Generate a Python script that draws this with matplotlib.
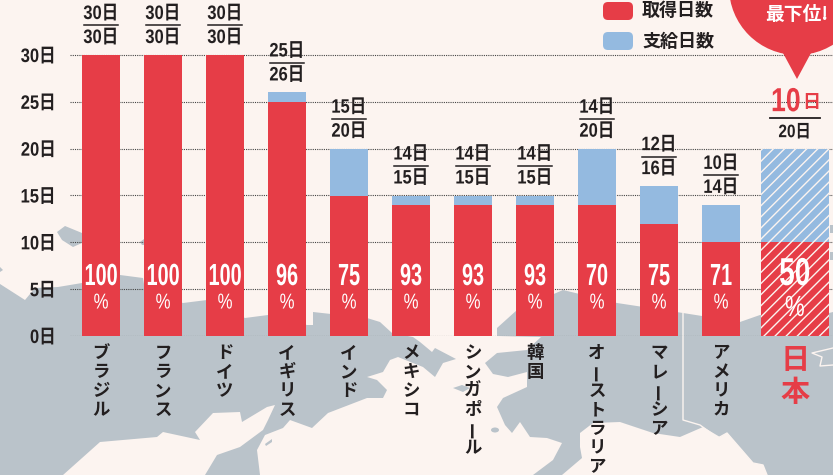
import matplotlib
matplotlib.use('Agg')
import matplotlib.pyplot as plt
from matplotlib.patches import Polygon, Circle, Ellipse, FancyBboxPatch
from matplotlib.patheffects import AbstractPathEffect
from matplotlib.transforms import Affine2D
import numpy as np

# values
countries = ['ブラジル', 'フランス', 'ドイツ', 'イギリス', 'インド', 'メキシコ', 'シンガポール',
             '韓国', 'オーストラリア', 'マレーシア', 'アメリカ', '日本']
taken = [30, 30, 30, 25, 15, 14, 14, 14, 14, 12, 10, 10]
given = [30, 30, 30, 26, 20, 15, 15, 15, 20, 16, 14, 20]
rates = [100, 100, 100, 96, 75, 93, 93, 93, 70, 75, 71, 50]
yticks = [0, 5, 10, 15, 20, 25, 30]

RED = '#E63D47'
BLUE = '#94BAE0'
BG = '#FCF4F0'
GRAY = '#BAC3CA'
INK = '#231F20'
NUM = ['Liberation Sans', 'Noto Sans CJK JP']
JP = ['Noto Sans CJK JP', 'DejaVu Sans']


class Squeeze(AbstractPathEffect):
    # no condensed face is installed, so narrow the glyphs when they are drawn
    def __init__(self, sx, side='center'):
        super().__init__()
        self.sx = sx
        self.side = side

    def draw_path(self, renderer, gc, tpath, affine, rgbFace=None):
        ext = tpath.get_extents()
        c = ext.x1 if self.side == 'right' else (ext.x0 + ext.x1) / 2
        squeeze = Affine2D().translate(-c, 0).scale(self.sx, 1).translate(c, 0)
        renderer.draw_path(gc, tpath, squeeze + affine, rgbFace)


plt.rcParams['hatch.linewidth'] = 1.0
plt.rcParams['hatch.color'] = BG

W, H = 833, 475
fig = plt.figure(figsize=(W / 100, H / 100), dpi=100, facecolor=BG)

# map in the background, in picture pixels
bg = fig.add_axes([0, 0, 1, 1], zorder=0)
bg.set_xlim(0, W)
bg.set_ylim(H, 0)
bg.axis('off')

left_land = [(0, 284), (25, 300), (35, 288), (58, 287), (82, 283), (120, 275), (143, 278), (145, 290),
             (183, 303), (207, 300), (245, 318), (268, 315), (307, 325), (313, 325), (313, 312),
             (367, 318), (380, 322), (392, 333), (413, 337), (420, 342), (432, 352), (435, 348),
             (456, 359), (443, 363), (435, 377), (423, 367), (398, 357), (390, 360), (383, 372),
             (367, 377), (377, 380), (387, 390), (383, 398), (367, 398), (328, 413), (312, 428),
             (290, 420), (283, 428), (265, 435), (257, 450), (260, 475), (205, 475), (217, 455),
             (240, 447), (263, 430), (268, 420), (275, 405), (267, 407), (242, 422), (240, 412),
             (213, 413), (195, 432), (200, 440), (163, 432), (157, 437), (100, 442), (63, 475), (0, 475)]
right_land = [(497, 328), (517, 310), (563, 290), (617, 303), (683, 313), (740, 322), (760, 315),
              (829, 313), (833, 312), (833, 475), (767, 475), (763, 465), (753, 463), (727, 433),
              (720, 437), (703, 427), (680, 437), (653, 433), (620, 422), (593, 423), (580, 433),
              (580, 447), (582, 458), (562, 475), (533, 475), (553, 460), (562, 443), (547, 438),
              (530, 437), (520, 422), (512, 433), (505, 425), (497, 407), (503, 398), (527, 387),
              (527, 372), (508, 377), (493, 374), (485, 363), (497, 353), (527, 350), (541, 337), (497, 336)]
islands = [[(57, 232), (65, 226), (82, 233), (82, 243), (73, 247), (62, 240)],
           [(453, 388), (462, 385), (470, 388), (463, 392)],
           [(140, 242), (144, 239), (146, 245), (142, 245)],
           [(265, 444), (272, 439), (272, 442), (266, 446)],
           [(0, 267), (3, 270), (0, 272)],
           [(830, 225), (833, 225), (833, 233), (830, 233)],
           [(830, 252), (833, 252), (833, 260), (830, 260)]]
bg.add_patch(Polygon(left_land, fc=GRAY, ec='none'))
bg.add_patch(Polygon(right_land, fc=GRAY, ec='none'))
for isl in islands:
    bg.add_patch(Polygon(isl, fc=GRAY, ec='none'))
bg.add_patch(Ellipse((495, 430), 8, 5, fc=GRAY, ec='none'))
border_x, border_y = zip(*[(683, 313), (683, 420), (700, 425), (718, 438), (727, 433), (753, 463), (763, 465), (767, 475)])
bg.plot(border_x, border_y, color=BG, lw=1)
coast_x, coast_y = zip(*[(833, 348), (812, 353), (822, 357), (820, 366), (833, 365)])
bg.plot(coast_x, coast_y, color=BG, lw=1)

# chart: x=70px to the right edge, y=0 at 336px, y=30 at 55px
ax = fig.add_axes([70 / W, (H - 336) / H, (W - 70) / W, 336 / H], zorder=1)
ax.patch.set_alpha(0)
PX = 281 / 30  # pixels per day
ax.set_ylim(0, 336 / PX)
ax.set_xlim(-31 / 62, (W - 101) / 62)

pos = np.arange(12, dtype=float)
pos[-1] = 11.19
width = 38 / 62

for i in range(12):
    w = width if i < 11 else 68 / 62
    hatch = None if i < 11 else '///'
    ax.bar(pos[i], taken[i], w, color=RED, hatch=hatch, lw=0, zorder=3)
    ax.bar(pos[i], given[i] - taken[i], w, bottom=taken[i], color=BLUE, hatch=hatch, lw=0, zorder=3)

ax.set_yticks(yticks)
ax.set_yticklabels([str(v) + '日' for v in yticks], family=NUM, fontweight='bold', fontsize=14, color=INK)
for lab in ax.get_yticklabels():
    lab.set_path_effects([Squeeze(0.85, 'right')])
ax.tick_params(axis='y', length=0, pad=10)
ax.set_xticks([])
for s in ax.spines.values():
    s.set_visible(False)
ax.set_axisbelow(True)
ax.grid(axis='y', color='#444444', lw=0.8, ls=(0, (1, 1)))

label_fx = [Squeeze(0.85)]
# day counts above the bars
for i in range(11):
    ax.text(pos[i], given[i] + 41 / PX, str(taken[i]) + '日', family=NUM, fontweight='bold', fontsize=14,
            color=INK, ha='center', va='center', clip_on=False, path_effects=label_fx)
    ax.plot([pos[i] - 0.28, pos[i] + 0.28], [given[i] + 29.5 / PX] * 2, color=INK, lw=1.1, zorder=4)
    ax.text(pos[i], given[i] + 17 / PX, str(given[i]) + '日', family=NUM, fontweight='bold', fontsize=14,
            color=INK, ha='center', va='center', clip_on=False, path_effects=label_fx)

ax.text(pos[11] + 0.1, given[11] + 46 / PX, str(taken[11]), family='Liberation Sans', fontweight='bold',
        fontsize=24, color=RED, ha='right', va='center', path_effects=[Squeeze(0.8, 'right')])
ax.text(pos[11] + 0.12, given[11] + 46 / PX, '日', family=JP, fontweight='bold', fontsize=13, color=RED,
        ha='left', va='center')
ax.plot([pos[11] - 0.4, pos[11] + 0.4], [given[11] + 31 / PX] * 2, color=INK, lw=1.3, zorder=4)
ax.text(pos[11], given[11] + 16 / PX, str(given[11]) + '日', family=NUM, fontweight='bold', fontsize=13,
        color=INK, ha='center', va='center', path_effects=label_fx)

# rate inside the bars
for i in range(11):
    ax.text(pos[i], 59 / PX, str(rates[i]), family='Liberation Sans', fontweight='bold', fontsize=22, color='white',
            ha='center', va='center', zorder=5, path_effects=[Squeeze(0.65)])
    ax.text(pos[i], 33 / PX, '%', family='Liberation Sans', fontsize=15.5, color='white',
            ha='center', va='center', zorder=5, path_effects=[Squeeze(0.78)])
ax.text(pos[11], 61 / PX, str(rates[11]), family='Liberation Sans', fontweight='bold', fontsize=28,
        color='white', ha='center', va='center', zorder=5, path_effects=[Squeeze(0.72)])
ax.text(pos[11], 28 / PX, '%', family='Liberation Sans', fontsize=21, color='white',
        ha='center', va='center', zorder=5, path_effects=[Squeeze(0.76)])

# country names set vertically, one character per row
for i in range(12):
    big = i == 11
    step = 32 if big else 19
    first = 24 if big else 17
    for k, ch in enumerate(countries[i]):
        ax.annotate(ch, (pos[i], 0), xytext=(0, -(first + k * step) * 0.72), textcoords='offset points',
                    family=JP, fontweight='bold', fontsize=21 if big else 12.5, color=RED if big else INK,
                    ha='center', va='center', rotation=90 if ch == 'ー' else 0, annotation_clip=False)

# legend and callout on top
top = fig.add_axes([0, 0, 1, 1], zorder=2)
top.set_xlim(0, W)
top.set_ylim(H, 0)
top.axis('off')
for y0, col, label in [(2, RED, '取得日数'), (32, BLUE, '支給日数')]:
    top.add_patch(FancyBboxPatch((607, y0 + 4), 22, 10, boxstyle='round,pad=4,rounding_size=5', fc=col, ec='none'))
    top.text(642, y0 + 9, label, family=JP, fontweight='bold', fontsize=13, color=INK, va='center', ha='left')

top.add_patch(Circle((797, -13), 68, fc=RED, ec='none'))
top.add_patch(Polygon([(783, 53), (811, 53), (797, 79)], fc=RED, ec='none'))
top.text(797, 15, '最下位!', family=JP, fontweight='bold', fontsize=13.5, color='white', ha='center', va='center')

fig.savefig('out.png', dpi=100, facecolor=BG)
